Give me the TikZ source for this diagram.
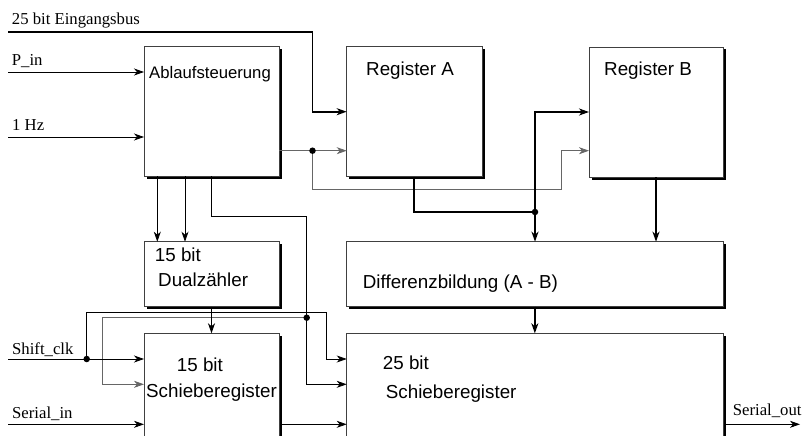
\documentclass[tikz,border=0pt]{standalone}
\usepackage{fontspec}
\setmainfont{Liberation Serif}
\newfontfamily\boxfont{Liberation Sans}
\usetikzlibrary{arrows.meta,shadows}

\begin{document}
\begin{tikzpicture}[
    x=1pt, y=-1pt,
    box/.style={draw=black!75, line width=0.6pt, fill=white, inner sep=0pt, outer sep=0pt,
        anchor=north west, minimum width=135pt,
        drop shadow={shadow xshift=2.5pt, shadow yshift=-2.5pt, fill=black, opacity=1}},
    btxt/.style={anchor=base west, inner sep=0pt, font=\boxfont\fontsize{18.8}{22}\selectfont},
    stxt/.style={anchor=base west, inner sep=0pt, font=\fontsize{16.7}{20}\selectfont},
    arr/.style={-{Stealth[length=10pt, width=7pt, inset=3pt]}},
    bus/.style={line width=1.8pt},
    sig/.style={line width=0.8pt},
    ctl/.style={line width=0.8pt, draw=black!60},
    dot/.style={circle, fill, inner sep=0pt, minimum size=6.5pt}
    ]
    \useasboundingbox (0,0) rectangle (803,436);
    \clip (0,0) rectangle (803,436);

    \node[box, minimum height=129.3pt] (ctrl) at (144,46.7) {};
    \node[box, minimum width=135.3pt, minimum height=130pt] (regA) at (346.7,46.7) {};
    \node[box, minimum width=134pt, minimum height=130pt] (regB) at (589,47) {};
    \node[box, minimum height=65pt] (cnt) at (144,241.7) {};
    \node[box, minimum width=376.3pt, minimum height=65pt] (diff) at (346.7,241.7) {};
    \node[box, minimum height=140pt] (shA) at (144,333.3) {};
    \node[box, minimum width=376.3pt, minimum height=140pt] (shB) at (346.7,333.3) {};

    \node[btxt, font=\boxfont\fontsize{16.7}{20}\selectfont] (ctrlT) at (149,78) {Ablaufsteuerung};
    \node[btxt] (regAT) at (366,75) {Register A};
    \node[btxt] (regBT) at (604,75) {Register B};
    \node[btxt] (cntT1) at (154.7,261) {15 bit};
    \node[btxt] (cntT2) at (158,286.7) {Dualzähler};
    \node[btxt] (diffT) at (362.7,288.3) {Differenzbildung (A - B)};
    \node[btxt] (shAT1) at (176.7,371.7) {15 bit};
    \node[btxt] (shAT2) at (146,397.3) {Schieberegister};
    \node[btxt] (shBT1) at (382.7,369) {25 bit};
    \node[btxt] (shBT2) at (385.7,398.3) {Schieberegister};

    \node[stxt] (busT) at (11.7,25) {25 bit Eingangsbus};
    \node[stxt] (pinT) at (11.7,65.3) {P\_in};
    \node[stxt] (hzT) at (12,130.3) {1 Hz};
    \node[stxt] (clkT) at (12,354.3) {Shift\_clk};
    \node[stxt] (sinT) at (12,418.7) {Serial\_in};
    \node[stxt] (soutT) at (732.7,415.7) {Serial\_out};

    \coordinate (busin) at (8,32.3);
    \coordinate (pin) at (8,72);
    \coordinate (hz) at (8,137);
    \coordinate (sclk) at (8,359);
    \coordinate (sin) at (8,424.3);
    \coordinate (sout) at (800,424.3);
    \coordinate (jA) at (312.5,150.7);
    \coordinate (jB) at (535,212);
    \coordinate (jC) at (306.7,317.7);
    \coordinate (jD) at (86.7,359);

    \draw[bus, arr] (busin) -| ([xshift=-34.2pt]regA.west) -- (regA.west);
    \draw[sig, arr] (pin) -- (pin -| ctrl.west);
    \draw[sig, arr] (hz) -- (hz -| ctrl.west);
    \draw[ctl, arr] (jA -| ctrl.east) -- (jA) -- (jA -| regA.west);
    \draw[ctl, arr] (jA) |- (561.7,189.3) |- ([yshift=-38.7pt]regB.west);
    \draw[bus] (regA.south) |- (jB);
    \draw[bus, arr] (jB) |- (regB.west);
    \draw[bus, arr] (jB) -- (jB |- diff.north);
    \draw[bus, arr] (regB.south) -- (regB.south |- diff.north);
    \draw[bus, arr] (diff.south) -- (shB.north);
    \draw[sig, arr] ([xshift=13.3pt]ctrl.south west) -- ([xshift=13.3pt]cnt.north west);
    \draw[sig, arr] ([xshift=41pt]ctrl.south west) -- ([xshift=41pt]cnt.north west);
    \draw[sig] (ctrl.south) |- (306.7,216.7) -- (jC);
    \draw[sig, arr] (jC) |- ([yshift=-51pt]shB.north west);
    \draw[ctl, arr] (jC) -- (102.7,317.7) |- ([yshift=-51pt]shA.north west);
    \draw[sig, arr] (cnt.south) -- (shA.north);
    \draw[sig, arr] (sclk) -- (sclk -| shA.west);
    \draw[sig, arr] (jD) |- (326.7,312.3) |- (jD -| shB.west);
    \draw[sig, arr] (sin) -- (sin -| shA.west);
    \draw[sig, arr] ([xshift=2.5pt]sin -| shA.east) -- (sin -| shB.west);
    \draw[sig, arr] ([xshift=2.5pt]sin -| shB.east) -- (sout);

    \node[dot] (dA) at (jA) {};
    \node[dot] (dB) at (jB) {};
    \node[dot] (dC) at (jC) {};
    \node[dot] (dD) at (jD) {};
\end{tikzpicture}
\end{document}
